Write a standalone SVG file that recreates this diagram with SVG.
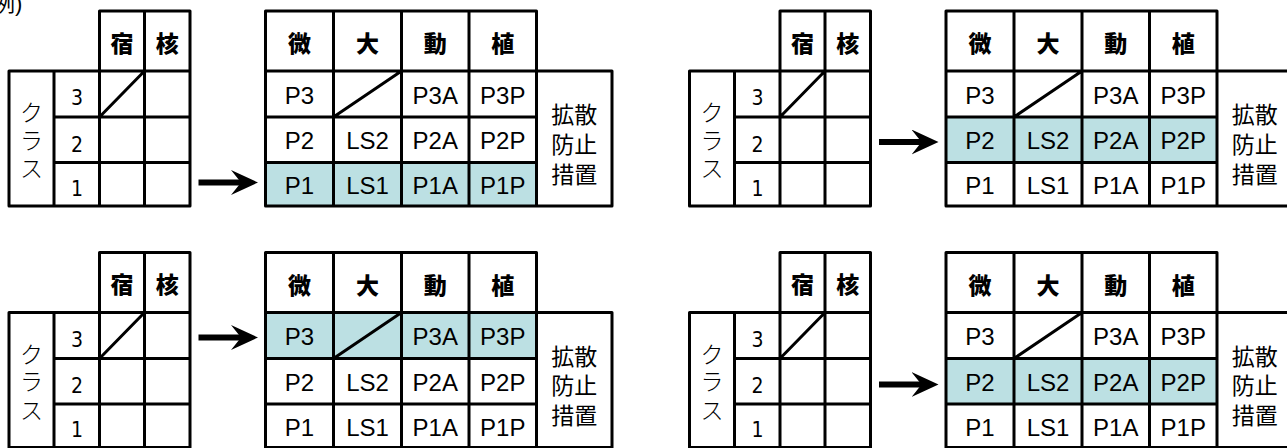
<svg xmlns="http://www.w3.org/2000/svg" width="1287" height="448" viewBox="0 0 1287 448">
<style>
.bg{fill:#fff}
.ln{fill:none;stroke:#000;stroke-width:3;stroke-linejoin:round;stroke-linecap:round}
.hl{fill:#bce0e3}
.hd{font-family:"Liberation Sans","Noto Sans CJK JP",sans-serif;font-weight:900;font-size:23px;text-anchor:middle}
.kt{font-family:"Liberation Sans","Noto Sans CJK JP",sans-serif;font-weight:300;font-size:23px;text-anchor:middle}
.dg{font-family:"DejaVu Sans Condensed","DejaVu Sans",sans-serif;font-stretch:condensed;font-weight:300;font-size:21px;text-anchor:middle}
.ct{font-family:"Liberation Sans",Arial,sans-serif;font-size:24px;text-anchor:middle}
.ms{font-family:"Liberation Sans","Noto Sans CJK JP",sans-serif;font-size:23px;text-anchor:middle}
.note{font-family:"Liberation Sans","Noto Sans CJK JP",sans-serif;font-size:22px}
.ar{stroke:#000;stroke-width:6;fill:none}
</style>
<defs>
<marker id="ah" markerUnits="userSpaceOnUse" viewBox="0 0 28 26" markerWidth="28" markerHeight="26" refX="14" refY="12.5" orient="auto">
<path d="M0,0 L27,12.5 L0,25 L10,12.5 Z" fill="#000"/>
</marker>
</defs>
<rect class="bg" x="0" y="0" width="1287" height="448"/>
<text class="note" x="-7" y="11">例)</text>

<!-- Top-left panel -->
<g id="panel-tl">
<g id="tl-class">
<path class="ln" d="M9,71 H99.5 V11 H190 V206 H9 Z M54,71 V206 M99.5,71 V206 M144.5,11 V206 M99.5,71 H190 M54,117 H190 M54,162.5 H190 M99.5,117 L144.5,71"/>
<text class="hd" x="122" y="51.5">宿</text><text class="hd" x="167.25" y="51.5">核</text>
<text class="kt" x="31.5" y="121">ク</text><text class="kt" x="31.5" y="148.5">ラ</text><text class="kt" x="31.5" y="177">ス</text>
<text class="dg" x="77" y="105">3</text><text class="dg" x="77" y="151.5">2</text><text class="dg" x="77" y="195.5">1</text>
</g>
<g id="tl-measures">
<rect class="hl" x="265.5" y="162.5" width="271" height="43.5"/>
<path class="ln" d="M265.5,11 H536.5 V206 H265.5 Z M333.5,11 V206 M401.5,11 V206 M469,11 V206 M265.5,71 H612 V206 H536.5 M265.5,117 H536.5 M265.5,162.5 H536.5 M333.5,117 L401.5,71"/>
<text class="hd" x="299.5" y="52">微</text><text class="hd" x="367.5" y="52">大</text><text class="hd" x="435.25" y="52">動</text><text class="hd" x="502.75" y="52">植</text>
<text class="ct" x="299.5" y="103.5">P3</text><text class="ct" x="435.25" y="103.5">P3A</text><text class="ct" x="502.75" y="103.5">P3P</text>
<text class="ct" x="299.5" y="149">P2</text><text class="ct" x="367.5" y="149">LS2</text><text class="ct" x="435.25" y="149">P2A</text><text class="ct" x="502.75" y="149">P2P</text>
<text class="ct" x="299.5" y="194">P1</text><text class="ct" x="367.5" y="194">LS1</text><text class="ct" x="435.25" y="194">P1A</text><text class="ct" x="502.75" y="194">P1P</text>
<text class="ms" x="574.3" y="123.2">拡散</text><text class="ms" x="574.3" y="152.7">防止</text><text class="ms" x="574.3" y="182.7">措置</text>
</g>
</g>

<!-- Top-right panel -->
<g id="panel-tr" transform="translate(680.5,0)">
<g id="tr-class">
<path class="ln" d="M9,71 H99.5 V11 H190 V206 H9 Z M54,71 V206 M99.5,71 V206 M144.5,11 V206 M99.5,71 H190 M54,117 H190 M54,162.5 H190 M99.5,117 L144.5,71"/>
<text class="hd" x="122" y="51.5">宿</text><text class="hd" x="167.25" y="51.5">核</text>
<text class="kt" x="31.5" y="121">ク</text><text class="kt" x="31.5" y="148.5">ラ</text><text class="kt" x="31.5" y="177">ス</text>
<text class="dg" x="77" y="105">3</text><text class="dg" x="77" y="151.5">2</text><text class="dg" x="77" y="195.5">1</text>
</g>
<g id="tr-measures">
<rect class="hl" x="265.5" y="117" width="271" height="45.5"/>
<path class="ln" d="M265.5,11 H536.5 V206 H265.5 Z M333.5,11 V206 M401.5,11 V206 M469,11 V206 M265.5,71 H612 V206 H536.5 M265.5,117 H536.5 M265.5,162.5 H536.5 M333.5,117 L401.5,71"/>
<text class="hd" x="299.5" y="52">微</text><text class="hd" x="367.5" y="52">大</text><text class="hd" x="435.25" y="52">動</text><text class="hd" x="502.75" y="52">植</text>
<text class="ct" x="299.5" y="103.5">P3</text><text class="ct" x="435.25" y="103.5">P3A</text><text class="ct" x="502.75" y="103.5">P3P</text>
<text class="ct" x="299.5" y="149">P2</text><text class="ct" x="367.5" y="149">LS2</text><text class="ct" x="435.25" y="149">P2A</text><text class="ct" x="502.75" y="149">P2P</text>
<text class="ct" x="299.5" y="194">P1</text><text class="ct" x="367.5" y="194">LS1</text><text class="ct" x="435.25" y="194">P1A</text><text class="ct" x="502.75" y="194">P1P</text>
<text class="ms" x="574.3" y="123.2">拡散</text><text class="ms" x="574.3" y="152.7">防止</text><text class="ms" x="574.3" y="182.7">措置</text>
</g>
</g>

<!-- Bottom-left panel -->
<g id="panel-bl" transform="translate(0,241.5)">
<g id="bl-class">
<path class="ln" d="M9,71 H99.5 V11 H190 V206 H9 Z M54,71 V206 M99.5,71 V206 M144.5,11 V206 M99.5,71 H190 M54,117 H190 M54,162.5 H190 M99.5,117 L144.5,71"/>
<text class="hd" x="122" y="51.5">宿</text><text class="hd" x="167.25" y="51.5">核</text>
<text class="kt" x="31.5" y="121">ク</text><text class="kt" x="31.5" y="148.5">ラ</text><text class="kt" x="31.5" y="177">ス</text>
<text class="dg" x="77" y="105">3</text><text class="dg" x="77" y="151.5">2</text><text class="dg" x="77" y="195.5">1</text>
</g>
<g id="bl-measures">
<rect class="hl" x="265.5" y="71" width="271" height="46"/>
<path class="ln" d="M265.5,11 H536.5 V206 H265.5 Z M333.5,11 V206 M401.5,11 V206 M469,11 V206 M265.5,71 H612 V206 H536.5 M265.5,117 H536.5 M265.5,162.5 H536.5 M333.5,117 L401.5,71"/>
<text class="hd" x="299.5" y="52">微</text><text class="hd" x="367.5" y="52">大</text><text class="hd" x="435.25" y="52">動</text><text class="hd" x="502.75" y="52">植</text>
<text class="ct" x="299.5" y="103.5">P3</text><text class="ct" x="435.25" y="103.5">P3A</text><text class="ct" x="502.75" y="103.5">P3P</text>
<text class="ct" x="299.5" y="149">P2</text><text class="ct" x="367.5" y="149">LS2</text><text class="ct" x="435.25" y="149">P2A</text><text class="ct" x="502.75" y="149">P2P</text>
<text class="ct" x="299.5" y="194">P1</text><text class="ct" x="367.5" y="194">LS1</text><text class="ct" x="435.25" y="194">P1A</text><text class="ct" x="502.75" y="194">P1P</text>
<text class="ms" x="574.3" y="123.2">拡散</text><text class="ms" x="574.3" y="152.7">防止</text><text class="ms" x="574.3" y="182.7">措置</text>
</g>
</g>

<!-- Bottom-right panel -->
<g id="panel-br" transform="translate(680.5,241.5)">
<g id="br-class">
<path class="ln" d="M9,71 H99.5 V11 H190 V206 H9 Z M54,71 V206 M99.5,71 V206 M144.5,11 V206 M99.5,71 H190 M54,117 H190 M54,162.5 H190 M99.5,117 L144.5,71"/>
<text class="hd" x="122" y="51.5">宿</text><text class="hd" x="167.25" y="51.5">核</text>
<text class="kt" x="31.5" y="121">ク</text><text class="kt" x="31.5" y="148.5">ラ</text><text class="kt" x="31.5" y="177">ス</text>
<text class="dg" x="77" y="105">3</text><text class="dg" x="77" y="151.5">2</text><text class="dg" x="77" y="195.5">1</text>
</g>
<g id="br-measures">
<rect class="hl" x="265.5" y="117" width="271" height="45.5"/>
<path class="ln" d="M265.5,11 H536.5 V206 H265.5 Z M333.5,11 V206 M401.5,11 V206 M469,11 V206 M265.5,71 H612 V206 H536.5 M265.5,117 H536.5 M265.5,162.5 H536.5 M333.5,117 L401.5,71"/>
<text class="hd" x="299.5" y="52">微</text><text class="hd" x="367.5" y="52">大</text><text class="hd" x="435.25" y="52">動</text><text class="hd" x="502.75" y="52">植</text>
<text class="ct" x="299.5" y="103.5">P3</text><text class="ct" x="435.25" y="103.5">P3A</text><text class="ct" x="502.75" y="103.5">P3P</text>
<text class="ct" x="299.5" y="149">P2</text><text class="ct" x="367.5" y="149">LS2</text><text class="ct" x="435.25" y="149">P2A</text><text class="ct" x="502.75" y="149">P2P</text>
<text class="ct" x="299.5" y="194">P1</text><text class="ct" x="367.5" y="194">LS1</text><text class="ct" x="435.25" y="194">P1A</text><text class="ct" x="502.75" y="194">P1P</text>
<text class="ms" x="574.3" y="123.2">拡散</text><text class="ms" x="574.3" y="152.7">防止</text><text class="ms" x="574.3" y="182.7">措置</text>
</g>
</g>

<!-- Connectors -->
<g id="connectors">
<line class="ar" x1="198.5" y1="182.5" x2="245" y2="182.5" marker-end="url(#ah)"/>
<line class="ar" x1="879" y1="142" x2="925.5" y2="142" marker-end="url(#ah)"/>
<line class="ar" x1="198.5" y1="337.5" x2="245" y2="337.5" marker-end="url(#ah)"/>
<line class="ar" x1="879" y1="384.5" x2="925.5" y2="384.5" marker-end="url(#ah)"/>
</g>
</svg>
